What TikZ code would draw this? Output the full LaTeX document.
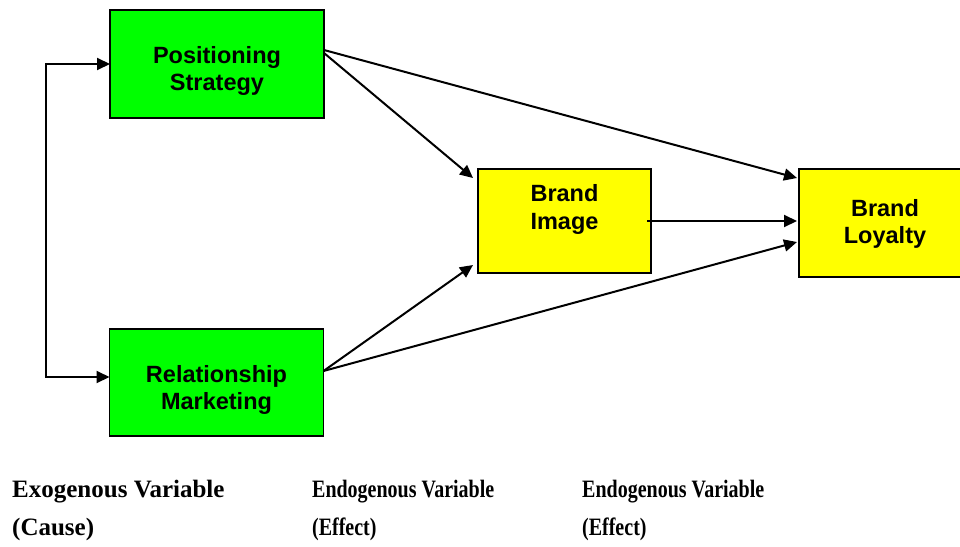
\documentclass[tikz,border=0pt]{standalone}
\usepackage{fontspec}
\setmainfont{Liberation Serif}
\setsansfont{Liberation Sans}
\usetikzlibrary{arrows.meta}
\definecolor{boxgreen}{HTML}{00FF00}
\definecolor{boxyellow}{HTML}{FFFF00}
\begin{document}
\begin{tikzpicture}[x=1pt,y=-1pt,
  varbox/.style={draw=black,line width=1.3pt,minimum width=#1,inner sep=0pt,outer sep=0pt},
  greenbox/.style={varbox=214pt,fill=boxgreen,minimum height=108pt},
  yellowbox/.style={varbox=172pt,fill=boxyellow,minimum height=106pt},
  boxtext/.style={inner sep=0pt,align=center,font=\sffamily\bfseries\fontsize{23.5}{27.5}\selectfont},
  captext/.style={inner sep=0pt,anchor=base west,font=\rmfamily\bfseries\fontsize{25}{30}\selectfont},
  condensed/.style={captext,xscale=0.8},
  arr/.style={line width=2pt,-{Triangle[length=13pt,width=12pt]}},
  darr/.style={line width=2pt,{Triangle[length=13pt,width=12pt]}-{Triangle[length=13pt,width=12pt]}}
]
\useasboundingbox (0,0) rectangle (960,546);
% boxes
\node[greenbox] (PS) at (217,64) {};
\node[greenbox,minimum height=107pt] (RM) at (216.5,382.5) {};
\node[yellowbox,minimum width=173pt,minimum height=104pt] (BI) at (564.5,221) {};
\node[yellowbox,minimum height=108pt] (BL) at (885,223) {};
% box texts
\node[boxtext] (PSt) at (217,71) {Positioning\\Strategy};
\node[boxtext] (RMt) at (216.5,390) {Relationship\\Marketing};
\node[boxtext] (BIt) at (564.5,209.5) {Brand\\Image};
\node[boxtext] (BLt) at (885,224) {Brand\\Loyalty};
% connectors
\coordinate (bend) at (46,64);
\draw[darr] ([yshift=5.5pt]RM.west) -| (bend) -- (PS.west);
\draw[arr] ([yshift=11pt]PS.east) -- ([xshift=-5pt,yshift=-9pt]BI.north west);
\draw[arr] ([yshift=14pt]PS.east) -- ([xshift=-2pt,yshift=45pt]BL.west);
\draw[arr] ([xshift=-4pt]BI.east) -- ([xshift=-2pt,yshift=2pt]BL.west);
\draw[arr] ([yshift=11.5pt]RM.east) -- ([xshift=-5pt,yshift=8pt]BI.south west);
\draw[arr] ([yshift=11.5pt]RM.east) -- ([xshift=-2pt,yshift=-19pt]BL.west);
% captions
\node[captext] (c1a) at (12,497) {Exogenous Variable};
\node[captext] (c1b) at (12,535) {(Cause)};
\node[condensed] (c2a) at (312,497) {Endogenous Variable};
\node[condensed] (c2b) at (312,535) {(Effect)};
\node[condensed] (c3a) at (582,497) {Endogenous Variable};
\node[condensed] (c3b) at (582,535) {(Effect)};
\end{tikzpicture}
\end{document}
